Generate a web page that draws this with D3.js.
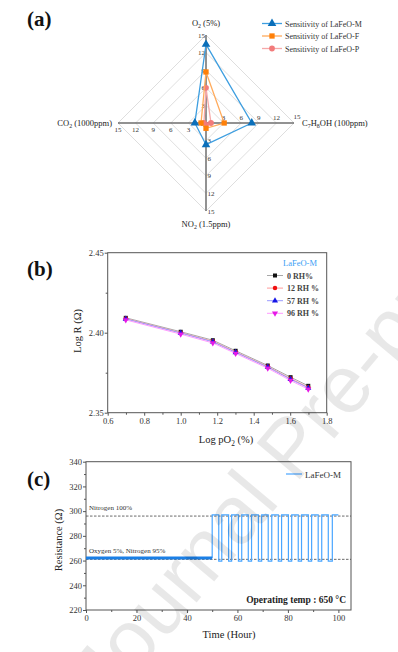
<!DOCTYPE html>
<html>
<head>
<meta charset="utf-8">
<script src="https://cdn.jsdelivr.net/npm/d3@7"></script>
<style>
  body { margin: 0; background: #fff; }
  svg { display: block; font-family: "Liberation Serif", "Times New Roman", serif; }
  .axis path, .axis line { stroke: #555; }
  .axis text { fill: #333; font-family: "Liberation Serif", serif; }
</style>
</head>
<body>
<div id="chart"></div>
<script>
"use strict"

// ---- (a) radar data ----
var radarAxes = ['O_2 (5%)', 'C_7H_8OH (100ppm)', 'NO_2 (1.5ppm)', 'CO_2 (1000ppm)'];
var radarTicks = [3, 6, 9, 12, 15];
var sensNames = ['Sensitivity of LaFeO-M', 'Sensitivity of LaFeO-F', 'Sensitivity of LaFeO-P'];
var sensM = [13.4, 7.8, 3.7, 1.9];
var sensF = [8.7, 3.1, 0.9, 0.85];
var sensP = [6.0, 0.85, 0.3, 0.35];

// ---- (b) humidity data ----
var logPO2 = [0.699, 1.0, 1.176, 1.301, 1.477, 1.602, 1.699];
var rhNames = ['0 RH%', '12 RH %', '57 RH %', '96 RH %'];
var rh0 = [2.4093, 2.4006, 2.3953, 2.3887, 2.3795, 2.3722, 2.3668];
var rh12 = [2.4088, 2.4000, 2.3946, 2.3880, 2.3788, 2.3713, 2.3659];
var rh57 = [2.4086, 2.3998, 2.3943, 2.3877, 2.3785, 2.3709, 2.3655];
var rh96 = [2.4080, 2.3991, 2.3936, 2.3870, 2.3778, 2.3701, 2.3647];

// ---- (c) stability data ----
var baseTime = [0, 10, 20, 30, 40, 50];
var baseRes = [262, 262, 262, 262, 262, 262];
var stepTime = [50, 50, 52.6, 53.8, 56.5, 57.7, 60.4, 61.7, 64.3, 65.6, 68.3, 69.6, 72.2, 73.6,
  76.2, 77.5, 80.2, 81.5, 84.1, 85.4, 88.1, 89.4, 92.0, 93.4, 96.0, 97.6, 100];
var stepRes = [262, 297, 259.5, 297, 259.5, 297, 259.5, 297, 259.5, 297, 259.5, 297, 259.5, 297,
  259.5, 297, 259.5, 297, 259.5, 297, 259.5, 297, 259.5, 297, 259.5, 297, 297];
var refLevels = [296, 261];
var refLabels = ['Nitrogen 100%', 'Oxygen 5%, Nitrogen 95%'];

var W = 398, H = 652;
var svg = d3.select('#chart').append('svg').attr('width', W).attr('height', H);

// text with "_x" subscripts
function richText(sel, str, size) {
  var parts = str.split(/_(\d)/);
  parts.forEach(function (p, i) {
    if (p === '') return;
    if (i % 2 === 1) {
      sel.append('tspan').attr('font-size', size * 0.7).attr('dy', size * 0.25).text(p);
    } else {
      var t = sel.append('tspan').text(p);
      if (i > 0) t.attr('dy', -size * 0.25);
    }
  });
  return sel;
}

function panelLabel(txt, x, y) {
  svg.append('text').attr('x', x).attr('y', y)
    .attr('font-size', 21).attr('font-weight', 'bold').attr('fill', '#111').text(txt);
}

// ================= (a) =================
panelLabel('(a)', 27, 26);
var cx = 206, cy = 123;
var rScale = d3.scaleLinear().domain([0, 15]).range([0, 88]);
var angles = [-Math.PI / 2, 0, Math.PI / 2, Math.PI]; // up, right, down, left
function pt(v, i) { return [cx + rScale(v) * Math.cos(angles[i]), cy + rScale(v) * Math.sin(angles[i])]; }

var gA = svg.append('g');
radarTicks.forEach(function (t) {
  gA.append('path')
    .attr('d', d3.line()(angles.map((a, i) => pt(t, i))) + 'Z')
    .attr('fill', 'none').attr('stroke', '#d6d6d6').attr('stroke-width', 0.8);
});
angles.forEach(function (a, i) {
  var e = pt(15, i);
  gA.append('line').attr('x1', cx).attr('y1', cy).attr('x2', e[0]).attr('y2', e[1])
    .attr('stroke', '#6e6e6e').attr('stroke-width', 1.5);
});
// tick numbers
radarTicks.forEach(function (t) {
  var fs = 7;
  var p;
  p = pt(t, 0); gA.append('text').attr('x', p[0] - 1).attr('y', p[1] + 2.5).attr('text-anchor', 'end').attr('font-size', fs).attr('fill', '#333').text(t);
  p = pt(t, 1); gA.append('text').attr('x', p[0] + (t === 15 ? 3 : 0)).attr('y', p[1] - (t === 15 ? 4 : 3)).attr('text-anchor', 'middle').attr('font-size', fs).attr('fill', '#333').text(t);
  p = pt(t, 2); gA.append('text').attr('x', p[0] + 1.5).attr('y', p[1] + 2.5).attr('text-anchor', 'start').attr('font-size', fs).attr('fill', '#333').text(t);
  p = pt(t, 3); gA.append('text').attr('x', p[0]).attr('y', p[1] + 9).attr('text-anchor', 'middle').attr('font-size', fs).attr('fill', '#333').text(t);
});
gA.append('text').attr('x', cx - 2).attr('y', cy + 2.5).attr('text-anchor', 'end').attr('font-size', 7).attr('fill', '#333').text(0);

// axis titles
var fsA = 8.5;
richText(gA.append('text').attr('x', cx).attr('y', 26).attr('text-anchor', 'middle').attr('font-size', fsA).attr('fill', '#222'), radarAxes[0], fsA);
richText(gA.append('text').attr('x', 302).attr('y', 126).attr('font-size', fsA).attr('fill', '#222'), radarAxes[1], fsA);
richText(gA.append('text').attr('x', cx).attr('y', 227).attr('text-anchor', 'middle').attr('font-size', fsA).attr('fill', '#222'), radarAxes[2], fsA);
richText(gA.append('text').attr('x', 112).attr('y', 126).attr('text-anchor', 'end').attr('font-size', fsA).attr('fill', '#222'), radarAxes[3], fsA);

var radarSeries = [
  { vals: sensP, line: '#f6a9a9', mark: '#f27b7b', sym: d3.symbolCircle, size: 26 },
  { vals: sensF, line: '#ffab5c', mark: '#ff8008', sym: d3.symbolSquare, size: 28 },
  { vals: sensM, line: '#3d9ee0', mark: '#0a6fba', sym: d3.symbolTriangle, size: 32 }
];
radarSeries.forEach(function (s) {
  gA.append('path')
    .attr('d', d3.line()(s.vals.map((v, i) => pt(v, i))) + 'Z')
    .attr('fill', 'none').attr('stroke', s.line).attr('stroke-width', 1.3);
  s.vals.forEach(function (v, i) {
    var p = pt(v, i);
    gA.append('path').attr('d', d3.symbol(s.sym, s.size)())
      .attr('transform', 'translate(' + p[0] + ',' + p[1] + ')').attr('fill', s.mark);
  });
});
// legend (a)
var legA = [radarSeries[2], radarSeries[1], radarSeries[0]];
legA.forEach(function (s, i) {
  var y = 23.5 + i * 12.5;
  gA.append('line').attr('x1', 262).attr('x2', 282).attr('y1', y).attr('y2', y).attr('stroke', s.line).attr('stroke-width', 1.3);
  gA.append('path').attr('d', d3.symbol(s.sym, s.size)()).attr('transform', 'translate(272,' + y + ')').attr('fill', s.mark);
  gA.append('text').attr('x', 285).attr('y', y + 3).attr('font-size', 8).attr('fill', '#333').text(sensNames[i]);
});

// ================= (b) =================
panelLabel('(b)', 27, 276);
var xB = d3.scaleLinear().domain([0.6, 1.8]).range([107.7, 326.7]);
var yB = d3.scaleLinear().domain([2.35, 2.45]).range([412.7, 252.7]);
var gB = svg.append('g');
gB.append('rect').attr('x', xB(0.6)).attr('y', yB(2.45)).attr('width', xB(1.8) - xB(0.6)).attr('height', yB(2.35) - yB(2.45))
  .attr('fill', 'none').attr('stroke', '#555').attr('stroke-width', 1);
gB.append('g').attr('class', 'axis').attr('transform', 'translate(' + xB(0.6) + ',0)')
  .call(d3.axisLeft(yB).tickValues([2.35, 2.40, 2.45]).tickFormat(d3.format('.2f')).tickSize(3).tickPadding(1))
  .call(g => g.select('.domain').remove()).selectAll('text').attr('font-size', 8.5);
gB.append('g').attr('class', 'axis').attr('transform', 'translate(' + xB(0.6) + ',0)')
  .call(d3.axisLeft(yB).tickValues([2.375, 2.425]).tickFormat('').tickSize(2))
  .call(g => g.select('.domain').remove());
gB.append('g').attr('class', 'axis').attr('transform', 'translate(0,' + yB(2.35) + ')')
  .call(d3.axisBottom(xB).tickValues(d3.range(0.6, 1.81, 0.2)).tickFormat(d3.format('.1f')).tickSize(3).tickPadding(2))
  .call(g => g.select('.domain').remove()).selectAll('text').attr('font-size', 8.5);
gB.append('g').attr('class', 'axis').attr('transform', 'translate(0,' + yB(2.35) + ')')
  .call(d3.axisBottom(xB).tickValues([0.7, 0.9, 1.1, 1.3, 1.5, 1.7]).tickFormat('').tickSize(2))
  .call(g => g.select('.domain').remove());
gB.append('text').attr('transform', 'translate(81,331) rotate(-90)').attr('text-anchor', 'middle')
  .attr('font-size', 10.5).attr('fill', '#222').text('Log R (Ω)');
richText(gB.append('text').attr('x', 226).attr('y', 443).attr('text-anchor', 'middle').attr('font-size', 10.5).attr('fill', '#222'), 'Log pO_2 (%)', 10.5);

var rhSeries = [
  { vals: rh0, line: '#a8a8a8', mark: '#111', sym: d3.symbolSquare, size: 16, rot: 0 },
  { vals: rh12, line: '#ff9a9a', mark: '#f01010', sym: d3.symbolCircle, size: 16, rot: 0 },
  { vals: rh57, line: '#9a9aff', mark: '#1515e6', sym: d3.symbolTriangle, size: 16, rot: 0 },
  { vals: rh96, line: '#ff9aff', mark: '#e619e6', sym: d3.symbolTriangle, size: 16, rot: 180 }
];
var lineB = d3.line().x((d, i) => xB(logPO2[i])).y(d => yB(d));
rhSeries.forEach(function (s) {
  gB.append('path').attr('d', lineB(s.vals)).attr('fill', 'none').attr('stroke', s.line).attr('stroke-width', 1);
  s.vals.forEach(function (v, i) {
    gB.append('path').attr('d', d3.symbol(s.sym, s.size)())
      .attr('transform', 'translate(' + xB(logPO2[i]) + ',' + yB(v) + ') rotate(' + s.rot + ')')
      .attr('fill', s.mark);
  });
});
gB.append('text').attr('x', 283).attr('y', 266).attr('font-size', 8.5).attr('fill', '#3aa0f5').text('LaFeO-M');
rhSeries.forEach(function (s, i) {
  var y = 275.5 + i * 12.6;
  gB.append('line').attr('x1', 267).attr('x2', 283).attr('y1', y).attr('y2', y).attr('stroke', s.line).attr('stroke-width', 1);
  gB.append('path').attr('d', d3.symbol(s.sym, s.size)()).attr('transform', 'translate(275,' + y + ') rotate(' + s.rot + ')').attr('fill', s.mark);
  gB.append('text').attr('x', 287).attr('y', y + 3).attr('font-size', 8).attr('font-weight', 600).attr('fill', '#444').text(rhNames[i]);
});

// ================= (c) =================
panelLabel('(c)', 27, 486);
var xC = d3.scaleLinear().domain([0, 105]).range([86, 351]);
var yC = d3.scaleLinear().domain([220, 340]).range([610, 461.7]);
var gC = svg.append('g');
gC.append('rect').attr('x', xC(0)).attr('y', yC(340)).attr('width', xC(105) - xC(0)).attr('height', yC(220) - yC(340))
  .attr('fill', 'none').attr('stroke', '#555').attr('stroke-width', 1);
gC.append('g').attr('class', 'axis').attr('transform', 'translate(' + xC(0) + ',0)')
  .call(d3.axisLeft(yC).tickValues(d3.range(220, 341, 20)).tickSize(3).tickPadding(1))
  .call(g => g.select('.domain').remove()).selectAll('text').attr('font-size', 8.5);
gC.append('g').attr('class', 'axis').attr('transform', 'translate(' + xC(0) + ',0)')
  .call(d3.axisLeft(yC).tickValues(d3.range(230, 340, 20)).tickFormat('').tickSize(2))
  .call(g => g.select('.domain').remove());
gC.append('g').attr('class', 'axis').attr('transform', 'translate(0,' + yC(220) + ')')
  .call(d3.axisBottom(xC).tickValues(d3.range(0, 101, 20)).tickSize(3).tickPadding(2))
  .call(g => g.select('.domain').remove()).selectAll('text').attr('font-size', 8.5);
gC.append('g').attr('class', 'axis').attr('transform', 'translate(0,' + yC(220) + ')')
  .call(d3.axisBottom(xC).tickValues(d3.range(10, 101, 20)).tickFormat('').tickSize(2))
  .call(g => g.select('.domain').remove());
gC.append('text').attr('transform', 'translate(62,540) rotate(-90)').attr('text-anchor', 'middle')
  .attr('font-size', 10.5).attr('fill', '#222').text('Resistance (Ω)');
gC.append('text').attr('x', 229).attr('y', 638).attr('text-anchor', 'middle')
  .attr('font-size', 10.5).attr('fill', '#222').text('Time (Hour)');

refLevels.forEach(function (lv, i) {
  gC.append('line').attr('x1', xC(0)).attr('x2', xC(105)).attr('y1', yC(lv)).attr('y2', yC(lv))
    .attr('stroke', '#444').attr('stroke-width', 0.8).attr('stroke-dasharray', '2.5,1.5');
  gC.append('text').attr('x', xC(0) + 3).attr('y', yC(lv) - 6).attr('font-size', 7).attr('fill', '#333').text(refLabels[i]);
});
gC.append('path')
  .attr('d', d3.line().x(d => xC(d[0])).y(d => yC(d[1])).curve(d3.curveStepAfter)(stepTime.map((t, i) => [t, stepRes[i]])))
  .attr('fill', 'none').attr('stroke', '#4aa6ff').attr('stroke-width', 1.2);
gC.append('path')
  .attr('d', d3.line().x(d => xC(d[0])).y(d => yC(d[1]))(baseTime.map((t, i) => [t, baseRes[i]])))
  .attr('fill', 'none').attr('stroke', '#1a7fe6').attr('stroke-width', 3);
gC.append('line').attr('x1', 286).attr('x2', 302).attr('y1', 474).attr('y2', 474).attr('stroke', '#4aa6ff').attr('stroke-width', 1.2);
gC.append('text').attr('x', 305).attr('y', 477.5).attr('font-size', 9).attr('fill', '#333').text('LaFeO-M');
gC.append('text').attr('x', 346).attr('y', 603).attr('text-anchor', 'end').attr('font-size', 9.5)
  .attr('font-weight', 'bold').attr('fill', '#222').text('Operating temp : 650 °C');

// watermark
svg.append('text').attr('transform', 'translate(108,708) rotate(-50)')
  .attr('font-family', '"Liberation Sans", Arial, sans-serif').attr('font-size', 82)
  .attr('fill', '#000').attr('fill-opacity', 0.09).attr('pointer-events', 'none')
  .text('Journal Pre-proof');
</script>
</body>
</html>
